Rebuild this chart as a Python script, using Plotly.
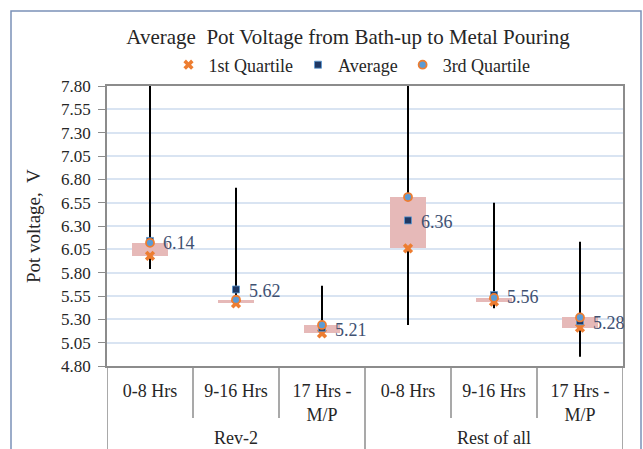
import plotly.graph_objects as go

groups = ["Rev-2", "Rest of all"]
categories = ["0-8 Hrs", "9-16 Hrs", "17 Hrs -<br>M/P", "0-8 Hrs", "9-16 Hrs", "17 Hrs -<br>M/P"]
q1 = [5.98, 5.47, 5.15, 6.06, 5.49, 5.21]
q3 = [6.12, 5.51, 5.24, 6.61, 5.53, 5.32]
average = [6.14, 5.62, 5.21, 6.36, 5.56, 5.28]
vmin = [5.84, 5.46, 5.14, 5.24, 5.42, 4.90]
vmax = [7.90, 6.71, 5.66, 7.90, 6.55, 6.13]
y_ticks = [4.80, 5.05, 5.30, 5.55, 5.80, 6.05, 6.30, 6.55, 6.80, 7.05, 7.30, 7.55, 7.80]

FONT = "Liberation Serif, Times New Roman, serif"
ORANGE = "#ed7d31"
NAVY = "#1f3864"
BLUE = "#5b9bd5"
PINK = "#e6b9b8"
GRID = "#d9e4f2"
AXIS = "#8c8c8c"
TEXT = "#262626"

xs = list(range(len(categories)))

# whisker segments (max -> Q3 and Q1 -> min)
wx, wy = [], []
for i in xs:
    wx += [i, i, None, i, i, None]
    wy += [vmax[i], q3[i], None, q1[i], vmin[i], None]

fig = go.Figure()
fig.add_trace(go.Bar(x=xs, y=[b - a for a, b in zip(q1, q3)], base=q1, width=0.42,
                     marker=dict(color=PINK, line=dict(width=0)), showlegend=False, hoverinfo="skip"))
fig.add_trace(go.Scatter(x=wx, y=wy, mode="lines", line=dict(color="black", width=2),
                         showlegend=False, hoverinfo="skip"))
fig.add_trace(go.Scatter(x=xs, y=q1, mode="markers", name="1st Quartile",
                         marker=dict(symbol="x", size=9, color=ORANGE, line=dict(width=0))))
fig.add_trace(go.Scatter(x=xs, y=average, mode="markers", name="Average",
                         marker=dict(symbol="square", size=7, color=NAVY, line=dict(color=BLUE, width=0.8))))
fig.add_trace(go.Scatter(x=xs, y=q3, mode="markers", name="3rd Quartile",
                         marker=dict(symbol="circle", size=8, color=BLUE, line=dict(color=ORANGE, width=1.8))))

L, R, T, B = 107, 20, 86, 83
W, H = 643, 449
pw, ph = W - L - R, H - T - B

def px_x(p):
    return (p - L) / pw

def px_y(p):
    return (H - B - p) / ph

shapes = []
# outer frame
shapes.append(dict(type="rect", xref="paper", yref="paper",
                   x0=px_x(11), x1=px_x(641), y0=px_y(470), y1=px_y(11),
                   line=dict(color="#7b91b8", width=1.5), layer="below"))
n = len(categories)
per_group = n // len(groups)
for k in range(n + 1):
    xv = k - 0.5
    is_group = (k % per_group == 0)
    shapes.append(dict(type="line", xref="x", yref="paper", x0=xv, x1=xv,
                       y0=0, y1=px_y(470) if is_group else px_y(418),
                       line=dict(color=AXIS, width=1.5)))

annotations = []
for i in xs:
    annotations.append(dict(x=i, xref="x", y=average[i], yref="y", text=f"{average[i]:.2f}",
                            showarrow=False, xanchor="left", yanchor="middle", xshift=11, yshift=-2,
                            font=dict(family=FONT, size=18, color="#3f5172")))
for gi, g in enumerate(groups):
    annotations.append(dict(x=gi * per_group + (per_group - 1) / 2, xref="x", y=px_y(438), yref="paper",
                            text=g, showarrow=False, font=dict(family=FONT, size=18, color=TEXT),
                            xanchor="center", yanchor="middle"))
annotations.append(dict(x=px_x(33), xref="paper", y=0.5, yref="paper", text="Pot voltage,  V",
                        textangle=-90, showarrow=False, xanchor="center", yanchor="middle",
                        font=dict(family=FONT, size=19, color=TEXT)))

fig.update_layout(
    width=W, height=H,
    margin=dict(l=L, r=R, t=T, b=B, autoexpand=False),
    paper_bgcolor="white", plot_bgcolor="white",
    font=dict(family=FONT, size=17, color=TEXT),
    title=dict(text="Average  Pot Voltage from Bath-up to Metal Pouring",
               x=px_x(348), xanchor="center", xref="paper",
               y=1 - 37 / H, yanchor="middle", yref="container",
               font=dict(family=FONT, size=21, color=TEXT)),
    legend=dict(orientation="h", x=px_x(352), xanchor="center", y=px_y(65), yanchor="middle",
                font=dict(family=FONT, size=18, color=TEXT), bgcolor="rgba(0,0,0,0)",
                itemwidth=30, tracegroupgap=0),
    showlegend=True,
    bargap=0,
    shapes=shapes,
    annotations=annotations,
)
fig.update_xaxes(range=[-0.5, n - 0.5], tickmode="array", tickvals=xs, ticktext=categories,
                 showgrid=False, zeroline=False, showline=True, mirror=True, automargin=False,
                 linecolor=AXIS, linewidth=1.5, ticks="outside", ticklen=8,
                 tickcolor="rgba(0,0,0,0)", tickfont=dict(family=FONT, size=18, color=TEXT))
fig.update_yaxes(range=[4.80, 7.80], tickmode="array", tickvals=y_ticks,
                 ticktext=[f"{v:.2f}" for v in y_ticks], automargin=False,
                 showgrid=True, gridcolor=GRID, gridwidth=1.5, zeroline=False,
                 showline=True, mirror=True, linecolor=AXIS, linewidth=1.5,
                 ticks="outside", ticklen=7, tickcolor=AXIS, ticklabelstandoff=4,
                 tickfont=dict(family=FONT, size=17, color=TEXT))

fig.write_html("out.html", post_script="document.body.style.margin='0';",
               config={"displayModeBar": False})
